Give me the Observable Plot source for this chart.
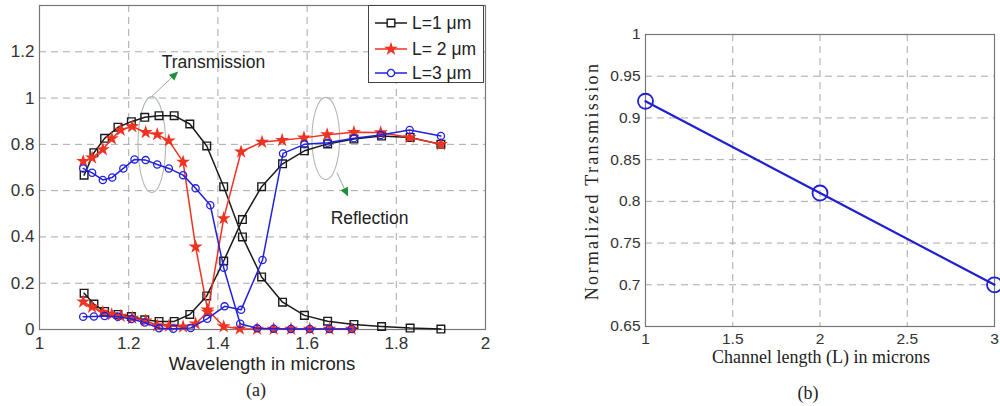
<!DOCTYPE html>
<html><head><meta charset="utf-8">
<script src="https://cdn.jsdelivr.net/npm/d3@7"></script>
<script src="https://cdn.jsdelivr.net/npm/@observablehq/plot@0.6"></script>
<style>
body{margin:0;background:#fff;}
#wrap{position:relative;width:1000px;height:406px;overflow:hidden;background:#fff;font-family:Arial,"Liberation Sans",sans-serif;}
.panel{position:absolute;top:0;width:500px;height:406px;}
.lbl{position:absolute;white-space:nowrap;color:#222;line-height:1;}
.serif{font-family:"Liberation Serif","DejaVu Serif",serif;}
#legend{position:absolute;left:368px;top:5px;width:116px;height:78px;border:1px solid #444;background:#fff;box-sizing:border-box;}
#legend .row{position:absolute;left:0;height:20px;display:flex;align-items:center;font-size:17.5px;color:#222;}
</style></head><body><div id="wrap"></div>
<script>
// ---------- Panel (a): wavelength sweep ----------
const seriesNames = ["L=1 \u03bcm", "L= 2 \u03bcm", "L=3 \u03bcm"];
const seriesColors = ["#1a1a1a", "#ee3322", "#2222dd"];
const seriesSymbols = ["square", "star", "circle"];

// L = 1 um (black)
const wl1 = [1.1, 1.122, 1.146, 1.176, 1.206, 1.236, 1.268, 1.302, 1.337, 1.375, 1.413, 1.455, 1.498, 1.545, 1.594, 1.646, 1.705, 1.767, 1.831, 1.9];
const trans1 = [0.667, 0.764, 0.826, 0.874, 0.898, 0.917, 0.924, 0.924, 0.888, 0.793, 0.617, 0.40, 0.227, 0.118, 0.061, 0.036, 0.022, 0.013, 0.006, 0.002];
const refl1 = [0.157, 0.11, 0.078, 0.065, 0.056, 0.042, 0.035, 0.035, 0.065, 0.145, 0.296, 0.475, 0.617, 0.716, 0.772, 0.802, 0.823, 0.836, 0.83, 0.80];

// L = 2 um (red)
const wl2T = [1.098, 1.118, 1.142, 1.162, 1.182, 1.208, 1.238, 1.264, 1.29, 1.322, 1.35, 1.377, 1.413, 1.449, 1.488, 1.525, 1.564, 1.606, 1.65, 1.70];
const trans2 = [0.727, 0.742, 0.778, 0.825, 0.862, 0.877, 0.852, 0.843, 0.816, 0.724, 0.357, 0.085, 0.013, 0.003, 0.002, 0.002, 0.002, 0.002, 0.002, 0.002];
const wl2R = [1.098, 1.118, 1.142, 1.162, 1.182, 1.208, 1.238, 1.264, 1.29, 1.322, 1.35, 1.377, 1.413, 1.452, 1.499, 1.544, 1.593, 1.645, 1.705, 1.765, 1.83, 1.9];
const refl2 = [0.12, 0.097, 0.075, 0.065, 0.058, 0.05, 0.038, 0.017, 0.015, 0.012, 0.025, 0.075, 0.48, 0.768, 0.81, 0.818, 0.828, 0.842, 0.852, 0.851, 0.83, 0.80];

// L = 3 um (blue)
const wl3T = [1.098, 1.118, 1.142, 1.163, 1.188, 1.213, 1.238, 1.264, 1.29, 1.322, 1.35, 1.383, 1.413, 1.45, 1.488, 1.525, 1.564, 1.606, 1.65, 1.70];
const trans3 = [0.696, 0.677, 0.646, 0.657, 0.696, 0.735, 0.732, 0.713, 0.696, 0.667, 0.61, 0.537, 0.267, 0.025, 0.005, 0.003, 0.002, 0.002, 0.002, 0.002];
const wl3R = [1.098, 1.122, 1.146, 1.176, 1.206, 1.236, 1.268, 1.30, 1.339, 1.376, 1.415, 1.452, 1.50, 1.546, 1.594, 1.646, 1.705, 1.765, 1.83, 1.9];
const refl3 = [0.055, 0.056, 0.058, 0.055, 0.045, 0.03, 0.005, 0.003, 0.007, 0.046, 0.10, 0.085, 0.30, 0.761, 0.80, 0.807, 0.826, 0.84, 0.862, 0.836];

const xTicksA = [1, 1.2, 1.4, 1.6, 1.8, 2];
const yTicksA = [0, 0.2, 0.4, 0.6, 0.8, 1, 1.2];

// annotations (data coordinates)
const annoText = ["Transmission", "Reflection"];
const annoX = [1.39, 1.74];
const annoY = [1.153, 0.481];
const ellCx = [1.253, 1.643];
const ellCy = [0.797, 0.823];
const ellRx = [0.031, 0.031];
const ellRy = [0.208, 0.178];
const arrX1 = [1.253, 1.668];
const arrY1 = [1.005, 0.676];
const arrX2 = [1.312, 1.693];
const arrY2 = [1.113, 0.572];

// ---------- Panel (b): channel length ----------
const lengthL = [1, 2, 3];
const normTrans = [0.92, 0.81, 0.70];
const xTicksB = [1, 1.5, 2, 2.5, 3];
const yTicksB = [0.65, 0.7, 0.75, 0.8, 0.85, 0.9, 0.95, 1];

// ---------- build ----------
const fmt = d3.format("~g");
const pts = (xs, ys) => xs.map((x, i) => ({x, y: ys[i]}));
const sets = [
  [pts(wl1, trans1), pts(wl1, refl1)],
  [pts(wl2T, trans2), pts(wl2R, refl2)],
  [pts(wl3T, trans3), pts(wl3R, refl3)]
];
const dotOpts = [
  {symbol: "square", r: 4.3, fill: "none", strokeWidth: 1.4},
  {symbol: "star", r: 4.4, strokeWidth: 0},
  {symbol: "circle", r: 3.6, fill: "none", strokeWidth: 1.3}
];
const seriesMarks = [];
sets.forEach((pair, s) => {
  pair.forEach(data => {
    seriesMarks.push(Plot.line(data, {x: "x", y: "y", stroke: seriesColors[s], strokeWidth: 1.5}));
    const o = Object.assign({x: "x", y: "y"}, dotOpts[s]);
    if (s === 1) o.fill = seriesColors[s]; else o.stroke = seriesColors[s];
    seriesMarks.push(Plot.dot(data, o));
  });
});

const SVGNS = "http://www.w3.org/2000/svg";
const ellipseMark = (index, scales) => {
  const g = document.createElementNS(SVGNS, "g");
  ellCx.forEach((cx, i) => {
    const e = document.createElementNS(SVGNS, "ellipse");
    const px = scales.x(cx), py = scales.y(ellCy[i]);
    e.setAttribute("cx", px);
    e.setAttribute("cy", py);
    e.setAttribute("rx", Math.abs(scales.x(cx + ellRx[i]) - px));
    e.setAttribute("ry", Math.abs(scales.y(ellCy[i] + ellRy[i]) - py));
    e.setAttribute("fill", "none");
    e.setAttribute("stroke", "#b0b8b0");
    e.setAttribute("stroke-width", "1.1");
    g.appendChild(e);
  });
  return g;
};
// arrows: thin shaft + filled green head, computed through the scales
const arrowMark = (index, scales) => {
  const g = document.createElementNS(SVGNS, "g");
  arrX1.forEach((x1, i) => {
    const ax = scales.x(x1), ay = scales.y(arrY1[i]);
    const bx = scales.x(arrX2[i]), by = scales.y(arrY2[i]);
    const ang = Math.atan2(by - ay, bx - ax);
    const hl = 9, hw = 4;
    const cx = bx - hl * Math.cos(ang), cy = by - hl * Math.sin(ang);
    const l = document.createElementNS(SVGNS, "line");
    l.setAttribute("x1", ax); l.setAttribute("y1", ay); l.setAttribute("x2", cx); l.setAttribute("y2", cy);
    l.setAttribute("stroke", "#8fb09a"); l.setAttribute("stroke-width", "1");
    g.appendChild(l);
    const p = document.createElementNS(SVGNS, "path");
    const px1 = cx + hw * Math.sin(ang), py1 = cy - hw * Math.cos(ang);
    const px2 = cx - hw * Math.sin(ang), py2 = cy + hw * Math.cos(ang);
    p.setAttribute("d", `M${bx},${by}L${px1},${py1}L${px2},${py2}Z`);
    p.setAttribute("fill", "#1f8f3a");
    g.appendChild(p);
  });
  return g;
};

const annoData = annoText.map((t, i) => ({t, x: annoX[i], y: annoY[i]}));
const gridStyle = {stroke: "#a8a8a8", strokeDasharray: "7,5", strokeWidth: 1};

const left = Plot.plot({
  width: 500, height: 406,
  marginLeft: 39, marginRight: 15, marginTop: 5, marginBottom: 77,
  style: {fontSize: "17px", fontFamily: "Arial, 'Liberation Sans', sans-serif", color: "#333", background: "transparent", overflow: "visible"},
  x: {domain: [1, 2], ticks: xTicksA, tickSize: 0, tickPadding: 7, tickFormat: fmt, label: null},
  y: {domain: [0, 1.4], ticks: yTicksA, tickSize: 0, tickPadding: 5, tickFormat: fmt, label: null},
  marks: [
    Plot.ruleX(xTicksA.slice(1, -1), gridStyle),
    Plot.ruleY(yTicksA.slice(1), gridStyle),
    Plot.frame({stroke: "#777", strokeWidth: 1.2}),
    ellipseMark,
    arrowMark,
    Plot.text(annoData, {x: "x", y: "y", text: "t", fontSize: 17.5, fill: "#222"}),
    ...seriesMarks
  ]
});

const right = Plot.plot({
  width: 500, height: 406,
  marginLeft: 145, marginRight: 6, marginTop: 34, marginBottom: 80,
  style: {fontSize: "15.5px", fontFamily: "Arial, 'Liberation Sans', sans-serif", color: "#333", background: "transparent"},
  x: {domain: [1, 3], ticks: xTicksB, tickSize: 0, tickPadding: 6, tickFormat: fmt, label: null},
  y: {domain: [0.65, 1], ticks: yTicksB, tickSize: 0, tickPadding: 5, tickFormat: fmt, label: null},
  marks: [
    Plot.ruleX(xTicksB.slice(1, -1), gridStyle),
    Plot.ruleY(yTicksB.slice(1, -1), gridStyle),
    Plot.frame({stroke: "#777", strokeWidth: 1.2}),
    Plot.line(pts(lengthL, normTrans), {x: "x", y: "y", stroke: "#2020d2", strokeWidth: 2.2}),
    Plot.dot(pts(lengthL, normTrans), {x: "x", y: "y", r: 7.5, stroke: "#2020d2", fill: "none", strokeWidth: 1.8})
  ]
});

const wrap = document.getElementById("wrap");
const pa = document.createElement("div"); pa.className = "panel"; pa.style.left = "0px"; pa.appendChild(left);
const pb = document.createElement("div"); pb.className = "panel"; pb.style.left = "500px"; pb.appendChild(right);
wrap.appendChild(pa); wrap.appendChild(pb);

function label(text, x, y, size, cls, rotate, extra) {
  const d = document.createElement("div");
  d.className = "lbl " + (cls || "");
  d.textContent = text;
  d.style.left = x + "px"; d.style.top = y + "px"; d.style.fontSize = size + "px";
  d.style.transform = "translate(-50%,-50%)" + (rotate ? " rotate(-90deg)" : "");
  if (extra) Object.assign(d.style, extra);
  wrap.appendChild(d);
}
label("Wavelength in microns", 262, 364, 18.5);
label("(a)", 256, 390, 18, "serif");
label("Channel length (L) in microns", 821, 357, 18, "serif");
label("(b)", 808, 393, 18, "serif");
label("Normalized Transmission", 592, 181, 18, "serif", true, {letterSpacing: "2.3px"});

// legend
const lg = document.createElement("div"); lg.id = "legend";
const rowY = [7, 33, 57];
seriesNames.forEach((name, i) => {
  const row = document.createElement("div"); row.className = "row"; row.style.top = rowY[i] + "px";
  const svg = d3.create("svg").attr("width", 40).attr("height", 20);
  svg.append("line").attr("x1", 6).attr("x2", 38).attr("y1", 10).attr("y2", 10).attr("stroke", seriesColors[i]).attr("stroke-width", 1.5);
  const symType = i === 0 ? d3.symbolSquare : i === 1 ? d3.symbolStar : d3.symbolCircle;
  const size = Math.PI * dotOpts[i].r * dotOpts[i].r;
  svg.append("path").attr("d", d3.symbol(symType, size)()).attr("transform", "translate(22,10)")
    .attr("fill", i === 1 ? seriesColors[i] : "#fff").attr("stroke", i === 1 ? "none" : seriesColors[i]).attr("stroke-width", dotOpts[i].strokeWidth);
  row.appendChild(svg.node());
  const t = document.createElement("span"); t.textContent = name; t.style.marginLeft = "3px";
  row.appendChild(t);
  lg.appendChild(row);
});
wrap.appendChild(lg);
</script>
</body></html>
